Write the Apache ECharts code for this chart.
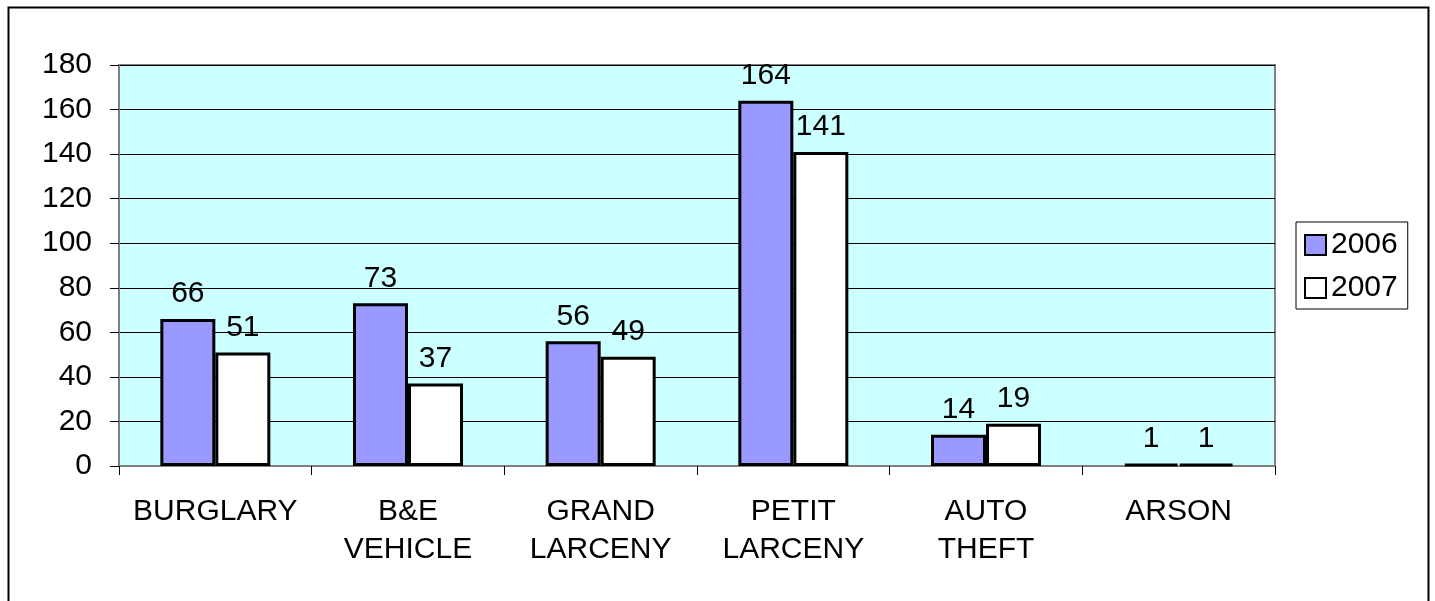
<!DOCTYPE html>
<html>
<head>
<meta charset="utf-8">
<script src="https://cdn.jsdelivr.net/npm/echarts@6/dist/echarts.min.js"></script>
<style>
  html, body { margin: 0; padding: 0; background: #fff; }
  #chart { width: 1435px; height: 601px; }
</style>
</head>
<body>
<div id="chart"></div>
<script>
const categories = ["BURGLARY", "B&E\nVEHICLE", "GRAND\nLARCENY", "PETIT\nLARCENY", "AUTO\nTHEFT", "ARSON"];
const values2006 = [66, 73, 56, 164, 14, 1];
const values2007 = [51, 37, 49, 141, 19, 1];

const font = "Liberation Sans, Arial, sans-serif";

const chart = echarts.init(document.getElementById("chart"));
chart.setOption({
  animation: false,
  graphic: [
    {
      type: "rect",
      shape: { x: 8.5, y: 7.5, width: 1420, height: 700 },
      style: { fill: "none", stroke: "#000", lineWidth: 2 },
      z: 0
    }
  ],
  grid: {
    left: 119, top: 65, width: 1156, height: 401,
    show: true, backgroundColor: "#CCFFFF", borderColor: "#808080", borderWidth: 2
  },
  legend: {
    orient: "vertical",
    left: 1296, top: 222,
    padding: [8, 10, 6, 8],
    itemGap: 13,
    itemWidth: 21, itemHeight: 20,
    borderColor: "#000", borderWidth: 1,
    icon: "rect",
    textStyle: { fontSize: 30, fontFamily: font, color: "#000", padding: [0, 0, 0, 0] },
    data: ["2006", "2007"]
  },
  xAxis: {
    type: "category",
    data: categories,
    axisLine: { lineStyle: { color: "#808080", width: 2 } },
    axisTick: { show: true, length: 9, lineStyle: { color: "#000" } },
    axisLabel: { fontSize: 30, fontFamily: font, color: "#000", lineHeight: 38, margin: 27, interval: 0, verticalAlign: "top" }
  },
  yAxis: {
    type: "value",
    min: 0, max: 180, interval: 20,
    axisLine: { show: true, lineStyle: { color: "#808080", width: 2 } },
    axisTick: { show: true, length: 9, lineStyle: { color: "#000" } },
    axisLabel: { fontSize: 30, fontFamily: font, color: "#000", margin: 27 },
    splitLine: { lineStyle: { color: "#000", width: 1 } }
  },
  series: [
    {
      name: "2006", type: "bar", data: values2006,
      barWidth: 55, barGap: "0%",
      itemStyle: { color: "#9999FF", borderColor: "#000", borderWidth: 3 },
      label: { show: true, position: "top", distance: 10, fontSize: 30, fontFamily: font, color: "#000" }
    },
    {
      name: "2007", type: "bar", data: values2007,
      barWidth: 55,
      itemStyle: { color: "#FFFFFF", borderColor: "#000", borderWidth: 3 },
      label: { show: true, position: "top", distance: 10, fontSize: 30, fontFamily: font, color: "#000" }
    }
  ]
});
</script>
</body>
</html>
